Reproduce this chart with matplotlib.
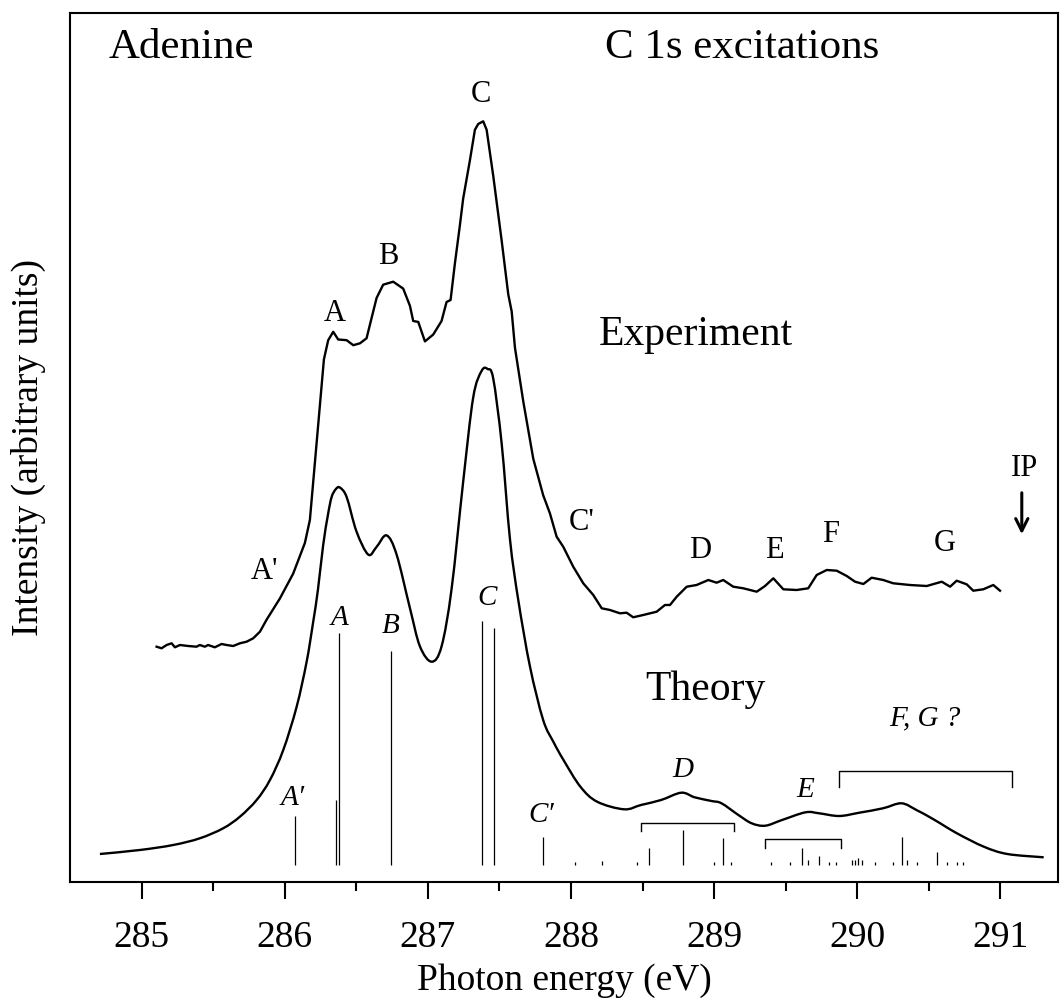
import matplotlib
matplotlib.use("Agg")
import matplotlib.pyplot as plt
from matplotlib.path import Path
from matplotlib.patches import PathPatch
import numpy as np

plt.rcParams['font.family'] = ['Liberation Serif', 'DejaVu Serif']

# ---------------- data ----------------
exp_energy = [285.105, 285.140, 285.175, 285.210, 285.233, 285.268, 285.326, 285.384, 285.407,
              285.442, 285.465, 285.512, 285.559, 285.594, 285.640, 285.687, 285.734, 285.780,
              285.827, 285.874, 285.966, 286.059, 286.141, 286.176, 286.211, 286.246, 286.274,
              286.304, 286.339, 286.374, 286.433, 286.479, 286.526, 286.572, 286.595, 286.642,
              286.688, 286.758, 286.828, 286.875, 286.898, 286.933, 286.980, 287.038, 287.096,
              287.131, 287.159, 287.189, 287.224, 287.247, 287.294, 287.329, 287.352, 287.387,
              287.411, 287.457, 287.516, 287.562, 287.586, 287.609, 287.667, 287.737, 287.806,
              287.853, 287.900, 287.946, 288.016, 288.086, 288.156, 288.215, 288.273, 288.342,
              288.389, 288.435, 288.505, 288.599, 288.657, 288.692, 288.739, 288.809, 288.878,
              288.960, 289.018, 289.064, 289.134, 289.204, 289.298, 289.356, 289.414, 289.484,
              289.577, 289.658, 289.717, 289.787, 289.857, 289.927, 289.985, 290.043, 290.101,
              290.182, 290.252, 290.369, 290.486, 290.591, 290.649, 290.695, 290.765, 290.811,
              290.881, 290.951, 290.998]
exp_intensity = [2.353, 2.337, 2.370, 2.387, 2.347, 2.370, 2.360, 2.353, 2.370,
                 2.353, 2.370, 2.347, 2.380, 2.370, 2.360, 2.387, 2.403, 2.437,
                 2.503, 2.624, 2.834, 3.083, 3.390, 3.620, 4.193, 4.767, 5.226,
                 5.418, 5.502, 5.425, 5.418, 5.368, 5.387, 5.437, 5.570, 5.840,
                 5.973, 6.003, 5.934, 5.762, 5.610, 5.601, 5.406, 5.475, 5.610,
                 5.800, 5.820, 6.183, 6.566, 6.834, 7.216, 7.522, 7.580, 7.607,
                 7.522, 7.063, 6.413, 5.877, 5.705, 5.341, 4.805, 4.231, 3.868,
                 3.687, 3.453, 3.353, 3.153, 2.987, 2.870, 2.737, 2.720, 2.687,
                 2.693, 2.647, 2.670, 2.703, 2.770, 2.770, 2.853, 2.953, 2.970,
                 3.020, 2.993, 3.020, 2.953, 2.937, 2.903, 2.960, 3.037, 2.927,
                 2.920, 2.937, 3.070, 3.120, 3.113, 3.060, 3.003, 2.980, 3.043,
                 3.020, 2.987, 2.970, 2.960, 3.003, 2.953, 3.013, 2.977, 2.913,
                 2.927, 2.970, 2.913]

theo_energy = [284.709, 284.988, 285.221, 285.407, 285.570, 285.687, 285.804, 285.897, 285.990,
               286.083, 286.153, 286.199, 286.232, 286.269, 286.302, 286.328, 286.358, 286.386,
               286.433, 286.502, 286.584, 286.642, 286.712, 286.782, 286.875, 286.945, 287.027,
               287.096, 287.166, 287.247, 287.317, 287.376, 287.418, 287.457, 287.516, 287.574,
               287.632, 287.714, 287.806, 287.878, 287.948, 288.066, 288.183, 288.371, 288.489,
               288.630, 288.771, 288.864, 288.982, 289.052, 289.170, 289.263, 289.358, 289.475,
               289.639, 289.734, 289.874, 290.015, 290.180, 290.309, 290.414, 290.533, 290.697,
               290.885, 291.049, 291.303]
theo_intensity = [0.280, 0.320, 0.370, 0.437, 0.537, 0.653, 0.820, 1.020, 1.320,
                  1.750, 2.200, 2.600, 2.920, 3.370, 3.670, 3.850, 3.930, 3.944,
                  3.849, 3.504, 3.274, 3.351, 3.466, 3.274, 2.739, 2.356, 2.203,
                  2.356, 2.930, 4.002, 4.844, 5.111, 5.130, 5.035, 4.384, 3.428,
                  2.820, 2.153, 1.620, 1.400, 1.220, 0.953, 0.803, 0.727, 0.770,
                  0.820, 0.893, 0.847, 0.810, 0.787, 0.670, 0.587, 0.563, 0.620,
                  0.697, 0.687, 0.660, 0.693, 0.737, 0.787, 0.720, 0.627, 0.487,
                  0.353, 0.280, 0.247]

stick_energy = [286.071, 286.356, 286.381, 286.740, 287.376, 287.460, 287.806,
                288.028, 288.215, 288.463, 288.547, 288.785, 288.999, 289.064, 289.116,
                289.396, 289.530, 289.616, 289.658, 289.735, 289.805, 289.852,
                289.962, 289.985, 290.008, 290.031, 290.124, 290.252, 290.311, 290.346,
                290.416, 290.556, 290.625, 290.695, 290.741]
stick_strength = [0.49, 0.65, 2.317, 2.143, 2.443, 2.370, 0.277,
                  0.033, 0.040, 0.033, 0.167, 0.350, 0.033, 0.267, 0.033,
                  0.033, 0.033, 0.173, 0.050, 0.093, 0.033, 0.033,
                  0.050, 0.050, 0.067, 0.050, 0.033, 0.033, 0.283, 0.050,
                  0.033, 0.133, 0.033, 0.033, 0.033]
stick_base = 0.17

# brackets: (left eV, right eV, top, leg bottom)
bracket_left = [288.489, 289.354, 289.870]
bracket_right = [289.139, 289.887, 291.085]
bracket_top = [0.595, 0.427, 1.110]
bracket_bottom = [0.510, 0.337, 0.947]

exp_labels = ["A", "B", "C", "A'", "C'", "D", "E", "F", "G"]
exp_label_x = [286.351, 286.723, 287.371, 285.862, 288.075, 288.906, 289.419, 289.817, 290.609]
exp_label_y = [5.686, 6.252, 7.875, 3.102, 3.600, 3.320, 3.320, 3.470, 3.387]

theo_labels = ["A", "B", "C", "A\u2032", "C\u2032", "D", "E", "F, G ?"]
theo_label_x = [286.381, 286.742, 287.413, 286.059, 287.795, 288.783, 289.636, 290.474]
theo_label_y = [2.637, 2.560, 2.840, 0.837, 0.670, 1.120, 0.920, 1.640]

ip_energy = 291.15
xticks = [285, 286, 287, 288, 289, 290, 291]


def smooth_path(xs, ys):
    """Catmull-Rom curve through the given points, as cubic Bezier segments."""
    P = np.column_stack([xs, ys]).astype(float)
    n = len(P)
    verts = [P[0]]
    codes = [Path.MOVETO]
    for i in range(n - 1):
        p0 = P[i - 1] if i > 0 else P[i]
        p1 = P[i]
        p2 = P[i + 1]
        p3 = P[i + 2] if i + 2 < n else P[i + 1]
        c1 = p1 + (p2 - p0) / 6.0
        c2 = p2 - (p3 - p1) / 6.0
        verts += [c1, c2, p2]
        codes += [Path.CURVE4] * 3
    return Path(verts, codes)


# ---------------- figure ----------------
fig = plt.figure(figsize=(10.6, 10.01), dpi=100)
ax = fig.add_axes([70 / 1060, (1001 - 882) / 1001, 988 / 1060, 869.5 / 1001])

ax.plot(exp_energy, exp_intensity, color='black', lw=1.7)
ax.add_patch(PathPatch(smooth_path(theo_energy, theo_intensity), fill=False,
                       edgecolor='black', lw=1.7))
ax.vlines(stick_energy, stick_base, stick_base + np.array(stick_strength), color='black', lw=0.9)

for l, r, t, b in zip(bracket_left, bracket_right, bracket_top, bracket_bottom):
    ax.plot([l, l, r, r], [b, t, t, b], color='black', lw=1.0)

for s, x, y in zip(exp_labels, exp_label_x, exp_label_y):
    ax.text(x, y, s, fontsize=22, ha='center', va='center')
for s, x, y in zip(theo_labels, theo_label_x, theo_label_y):
    ax.text(x, y, s, fontsize=21, ha='center', va='center', style='italic')

ax.text(ip_energy + 0.02, 4.137, "IP", fontsize=22, ha='center', va='center')
ax.annotate("", xy=(ip_energy, 3.45), xytext=(ip_energy, 3.92),
            arrowprops=dict(arrowstyle='->', lw=2.2, mutation_scale=22, color='black'))

ax.text(0.113, 0.959, "Adenine", transform=ax.transAxes, fontsize=31, ha='center', va='center')
ax.text(0.680, 0.959, "C 1s excitations", transform=ax.transAxes, fontsize=31, ha='center', va='center')
ax.text(288.874, 5.47, "Experiment", fontsize=30, ha='center', va='center')
ax.text(288.937, 1.92, "Theory", fontsize=30, ha='center', va='center')

ax.set_xlim(284.5, 291.403)
ax.set_ylim(0, 8.695)
ax.set_xticks(xticks)
ax.set_xticks(np.arange(285.5, 291.4, 1.0), minor=True)
ax.set_yticks([])
ax.tick_params(axis='x', which='major', direction='out', length=12, width=1.5, labelsize=27, pad=16)
ax.tick_params(axis='x', which='minor', direction='out', length=6.5, width=1.5)
for sp in ax.spines.values():
    sp.set_linewidth(1.5)

ax.set_xlabel("Photon energy (eV)", fontsize=27, labelpad=6)
ax.set_ylabel("Intensity (arbitrary units)", fontsize=27)
ax.yaxis.set_label_coords(-0.024, 0.5)

fig.savefig("out.png", dpi=100)
